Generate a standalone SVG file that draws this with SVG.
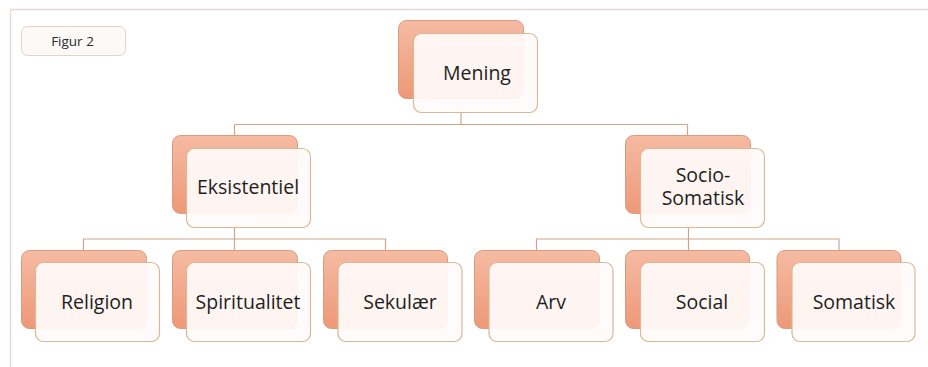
<svg xmlns="http://www.w3.org/2000/svg" width="928" height="367" viewBox="0 0 928 367">
  <defs>
    <linearGradient id="backFill" x1="0" y1="0" x2="0" y2="1">
      <stop offset="0" stop-color="#f5bba3"/>
      <stop offset="1" stop-color="#ee9877"/>
    </linearGradient>
    <style>
      .back { fill: url(#backFill); stroke: #d99a80; stroke-width: 1; }
      .front { fill: #fffbfa; fill-opacity: 0.93; stroke: #d8b896; stroke-width: 1.2; }
      .label { font-family: "Open Sans", "Liberation Sans", sans-serif; font-size: 19.5px; fill: #1e1e1e; text-anchor: middle; }
      .conn { fill: none; stroke: #c9a78c; stroke-width: 1.2; }
    </style>
  </defs>

  <rect width="928" height="367" fill="#ffffff"/>

  <!-- page frame -->
  <path d="M10.5 367 V9.5 H928" fill="none" stroke="#e8d9cd" stroke-width="1.5"/>

  <g id="caption">
    <rect x="21.5" y="26.5" width="104" height="29" rx="6" fill="#fdf9f7" stroke="#e4d2c4" stroke-width="1"/>
    <text x="72.5" y="45.5" font-family="Open Sans, Liberation Sans, sans-serif" font-size="13.5" fill="#2a2a2a" text-anchor="middle">Figur 2</text>
  </g>

  <g id="connectors" class="conn">
    <path d="M461 112 V124.5 M234.5 124.5 H687.5 M234.5 124.5 V135 M687.5 124.5 V135"/>
    <path d="M234.5 227 V239 M83.5 250 V239 H385.5 V250 M234.5 239 V250"/>
    <path d="M688.5 227 V239 M536.5 250 V239 H839 V250 M688.5 239 V250"/>
  </g>

  <g id="mening">
    <rect class="back" x="398.5" y="20.5" width="125" height="78" rx="8"/>
    <rect class="front" x="413.5" y="33.5" width="124" height="79" rx="8"/>
    <text class="label" x="477" y="80">Mening</text>
  </g>

  <g id="eksistentiel">
    <rect class="back" x="172.5" y="135.5" width="125" height="78" rx="8"/>
    <rect class="front" x="186.5" y="148.5" width="124" height="79" rx="8"/>
    <text class="label" x="248" y="194">Eksistentiel</text>
  </g>

  <g id="socio-somatisk">
    <rect class="back" x="625.5" y="135.5" width="125" height="78" rx="8"/>
    <rect class="front" x="640.5" y="148.5" width="124" height="79" rx="8"/>
    <text class="label" x="703" y="182"><tspan x="703">Socio-</tspan><tspan x="703" dy="23">Somatisk</tspan></text>
  </g>

  <g id="religion">
    <rect class="back" x="21.5" y="250.5" width="125" height="78" rx="8"/>
    <rect class="front" x="35.5" y="262.5" width="124" height="79" rx="8"/>
    <text class="label" x="97" y="308.5">Religion</text>
  </g>

  <g id="spiritualitet">
    <rect class="back" x="172.5" y="250.5" width="125" height="78" rx="8"/>
    <rect class="front" x="186.5" y="262.5" width="124" height="79" rx="8"/>
    <text class="label" x="248" y="308.5">Spiritualitet</text>
  </g>

  <g id="sekulaer">
    <rect class="back" x="323.5" y="250.5" width="124" height="78" rx="8"/>
    <rect class="front" x="338" y="262.5" width="124" height="79" rx="8"/>
    <text class="label" x="400" y="308.5">Sekulær</text>
  </g>

  <g id="arv">
    <rect class="back" x="474.5" y="250.5" width="125" height="78" rx="8"/>
    <rect class="front" x="489" y="262.5" width="124" height="79" rx="8"/>
    <text class="label" x="551" y="308.5">Arv</text>
  </g>

  <g id="social">
    <rect class="back" x="625.5" y="250.5" width="124" height="78" rx="8"/>
    <rect class="front" x="640.5" y="262.5" width="124" height="79" rx="8"/>
    <text class="label" x="702" y="308.5">Social</text>
  </g>

  <g id="somatisk">
    <rect class="back" x="777" y="250.5" width="124" height="78" rx="8"/>
    <rect class="front" x="792" y="262.5" width="123" height="79" rx="8"/>
    <text class="label" x="854" y="308.5">Somatisk</text>
  </g>
</svg>
